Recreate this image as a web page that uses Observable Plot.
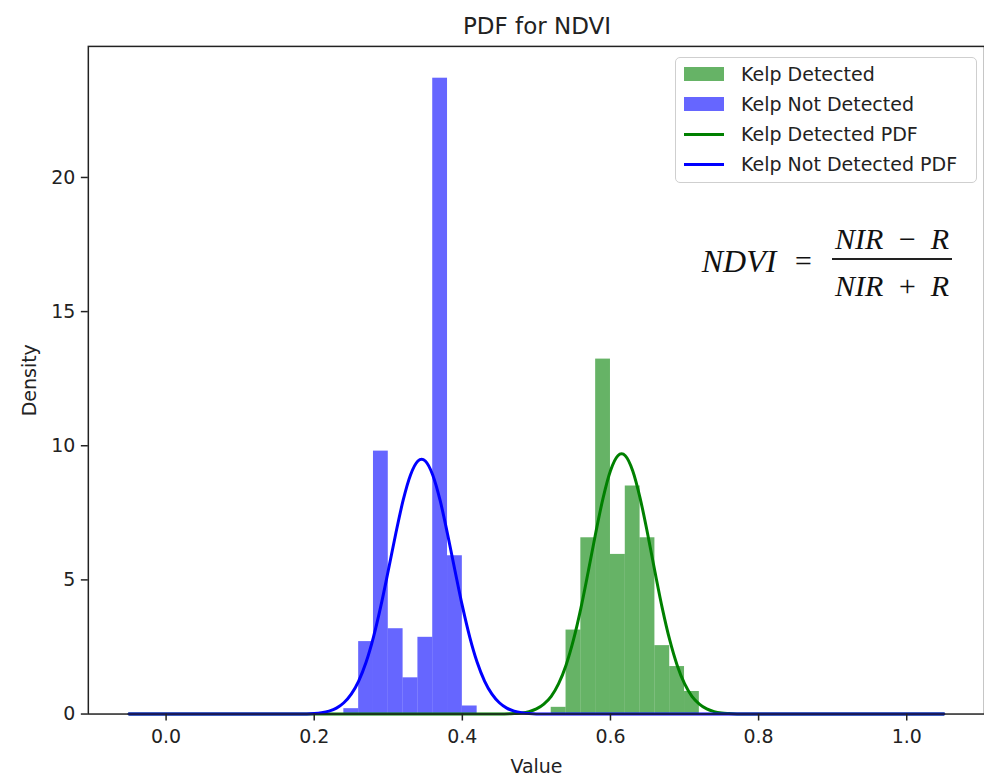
<!DOCTYPE html>
<html>
<head>
<meta charset="utf-8">
<script src="https://cdn.jsdelivr.net/npm/d3@7"></script>
<script src="https://cdn.jsdelivr.net/npm/@observablehq/plot@0.6"></script>
<style>
  html, body { margin: 0; padding: 0; background: #fff; overflow: hidden; }
  #wrap { position: relative; width: 984px; height: 780px; overflow: hidden; font-family: "DejaVu Sans", sans-serif; color: #222; }
  #chart { position: absolute; left: 0; top: 0; }
  .title { position: absolute; left: 88px; width: 898px; top: 15px; text-align: center; font-size: 23px; line-height: 1; }
  .legend { position: absolute; left: 675px; top: 57px; width: 300px; height: 124px; border: 1px solid #cfcfcf; border-radius: 5px; background: rgba(255,255,255,0.8); }
  .row { position: absolute; left: 0; height: 30px; width: 300px; }
  .handle { position: absolute; left: 8px; width: 40px; }
  .lab { position: absolute; left: 65px; top: 0; line-height: 30px; font-size: 19px; white-space: nowrap; }
  .f { position: absolute; font-family: "Liberation Serif", "DejaVu Serif", serif; font-style: italic; line-height: 1; transform: translate(-50%, -50%); white-space: nowrap; color: #111; }
  .bar { position: absolute; background: #222; }
</style>
</head>
<body>
<div id="wrap">
  <div id="chart"></div>
  <div class="title" id="title"></div>
  <div class="legend" id="legend"></div>
</div>
<script>
// ---- data ----
const titleText = "PDF for NDVI";
const xLabel = "Value";
const yLabel = "Density";

const xTicks = [0.0, 0.2, 0.4, 0.6, 0.8, 1.0];
const yTicks = [0, 5, 10, 15, 20];

// Kelp Not Detected histogram (density)
const blueBinEdges = [0.24, 0.26, 0.28, 0.30, 0.32, 0.34, 0.36, 0.38, 0.40, 0.42];
const blueDensity  = [0.2, 2.7, 9.8, 3.18, 1.35, 2.86, 23.7, 5.9, 0.3];

// Kelp Detected histogram (density)
const greenBinEdges = [0.52, 0.54, 0.56, 0.58, 0.60, 0.62, 0.64, 0.66, 0.68, 0.70, 0.72];
const greenDensity  = [0.25, 3.13, 6.57, 13.23, 5.95, 8.5, 6.57, 2.55, 1.77, 0.84];

// PDF curves
const bluePdfX = [-0.05, 0.18, 0.20, 0.21, 0.22, 0.23, 0.24, 0.25, 0.26, 0.27, 0.28, 0.29, 0.30, 0.31, 0.32, 0.33, 0.34, 0.345, 0.35, 0.36, 0.37, 0.38, 0.39, 0.40, 0.41, 0.42, 0.43, 0.44, 0.45, 0.46, 0.47, 0.48, 0.49, 0.51, 1.05];
const bluePdfY = [0, 0, 0.02, 0.05, 0.11, 0.22, 0.42, 0.74, 1.23, 1.93, 2.87, 4.03, 5.35, 6.71, 7.96, 8.91, 9.43, 9.5, 9.43, 8.91, 7.96, 6.71, 5.35, 4.03, 2.87, 1.93, 1.23, 0.74, 0.42, 0.22, 0.11, 0.05, 0.02, 0, 0];

const greenPdfX = [-0.05, 0.45, 0.47, 0.48, 0.49, 0.50, 0.51, 0.52, 0.53, 0.54, 0.55, 0.56, 0.57, 0.58, 0.59, 0.60, 0.61, 0.615, 0.62, 0.63, 0.64, 0.65, 0.66, 0.67, 0.68, 0.69, 0.70, 0.71, 0.72, 0.73, 0.74, 0.75, 0.76, 0.78, 1.05];
const greenPdfY = [0, 0, 0.02, 0.04, 0.09, 0.19, 0.37, 0.66, 1.13, 1.82, 2.76, 3.94, 5.31, 6.74, 8.05, 9.07, 9.63, 9.7, 9.63, 9.07, 8.05, 6.74, 5.31, 3.94, 2.76, 1.82, 1.13, 0.66, 0.37, 0.19, 0.09, 0.04, 0.02, 0, 0];

const legendLabels = ["Kelp Detected", "Kelp Not Detected", "Kelp Detected PDF", "Kelp Not Detected PDF"];
const legendKinds  = ["patch", "patch", "line", "line"];
const legendColors = ["green", "blue", "green", "blue"];

// ---- build tables ----
const blueBins = blueDensity.map((v, i) => ({x1: blueBinEdges[i], x2: blueBinEdges[i + 1], y: v}));
const greenBins = greenDensity.map((v, i) => ({x1: greenBinEdges[i], x2: greenBinEdges[i + 1], y: v}));
const bluePdf = bluePdfX.map((x, i) => ({x, y: bluePdfY[i]}));
const greenPdf = greenPdfX.map((x, i) => ({x, y: greenPdfY[i]}));

const chart = Plot.plot({
  width: 986,
  height: 780,
  marginLeft: 88,
  marginRight: 0,
  marginTop: 46,
  marginBottom: 65,
  style: {fontFamily: "DejaVu Sans, sans-serif", fontSize: "19px", color: "#222", background: "transparent"},
  x: {domain: [-0.105, 1.105]},
  y: {domain: [0, 24.885]},
  marks: [
    Plot.rectY(greenBins, {x1: "x1", x2: "x2", y1: () => 0, y2: "y", fill: "green", fillOpacity: 0.6, inset: 0}),
    Plot.rectY(blueBins, {x1: "x1", x2: "x2", y1: () => 0, y2: "y", fill: "blue", fillOpacity: 0.6, inset: 0}),
    Plot.line(greenPdf, {x: "x", y: "y", stroke: "green", strokeWidth: 3, curve: "monotone-x"}),
    Plot.line(bluePdf, {x: "x", y: "y", stroke: "blue", strokeWidth: 3, curve: "monotone-x"}),
    Plot.frame({stroke: "#222", strokeWidth: 1.5}),
    Plot.axisX({ticks: xTicks, tickFormat: d3.format(".1f"), tickSize: 7, tickPadding: 9, strokeWidth: 1.5,
      label: xLabel, labelAnchor: "center", labelArrow: "none", labelOffset: 59}),
    Plot.axisY({ticks: yTicks, tickFormat: d3.format("d"), tickSize: 7, tickPadding: 6, strokeWidth: 1.5,
      label: yLabel, labelAnchor: "center", labelArrow: "none", labelOffset: 66})
  ]
});
document.getElementById("chart").appendChild(chart);

// title
document.getElementById("title").textContent = titleText;

// legend
const legend = document.getElementById("legend");
legendLabels.forEach((lab, i) => {
  const row = document.createElement("div");
  row.className = "row";
  row.style.top = (1 + i * 30) + "px";
  const h = document.createElement("div");
  h.className = "handle";
  if (legendKinds[i] === "patch") {
    h.style.top = "8px"; h.style.height = "14px";
    h.style.background = legendColors[i]; h.style.opacity = 0.6;
  } else {
    h.style.top = "13.5px"; h.style.height = "3px";
    h.style.background = legendColors[i];
  }
  row.appendChild(h);
  const t = document.createElement("div");
  t.className = "lab";
  t.textContent = lab;
  row.appendChild(t);
  legend.appendChild(row);
});

// formula NDVI = (NIR - R) / (NIR + R)
const wrap = document.getElementById("wrap");
function ftext(txt, cx, cy, size) {
  const d = document.createElement("div");
  d.className = "f";
  d.style.left = cx + "px"; d.style.top = cy + "px"; d.style.fontSize = size + "px";
  d.innerHTML = txt;
  wrap.appendChild(d);
}
ftext("NDVI", 739, 261, 32);
ftext("=", 803, 261, 30);
ftext("NIR &thinsp;&minus;&thinsp; R", 892, 239, 30);
ftext("NIR &thinsp;+&thinsp; R", 892, 286, 30);
const bar = document.createElement("div");
bar.className = "bar";
bar.style.left = "832px"; bar.style.top = "258px"; bar.style.width = "120px"; bar.style.height = "2px";
wrap.appendChild(bar);
</script>
</body>
</html>
